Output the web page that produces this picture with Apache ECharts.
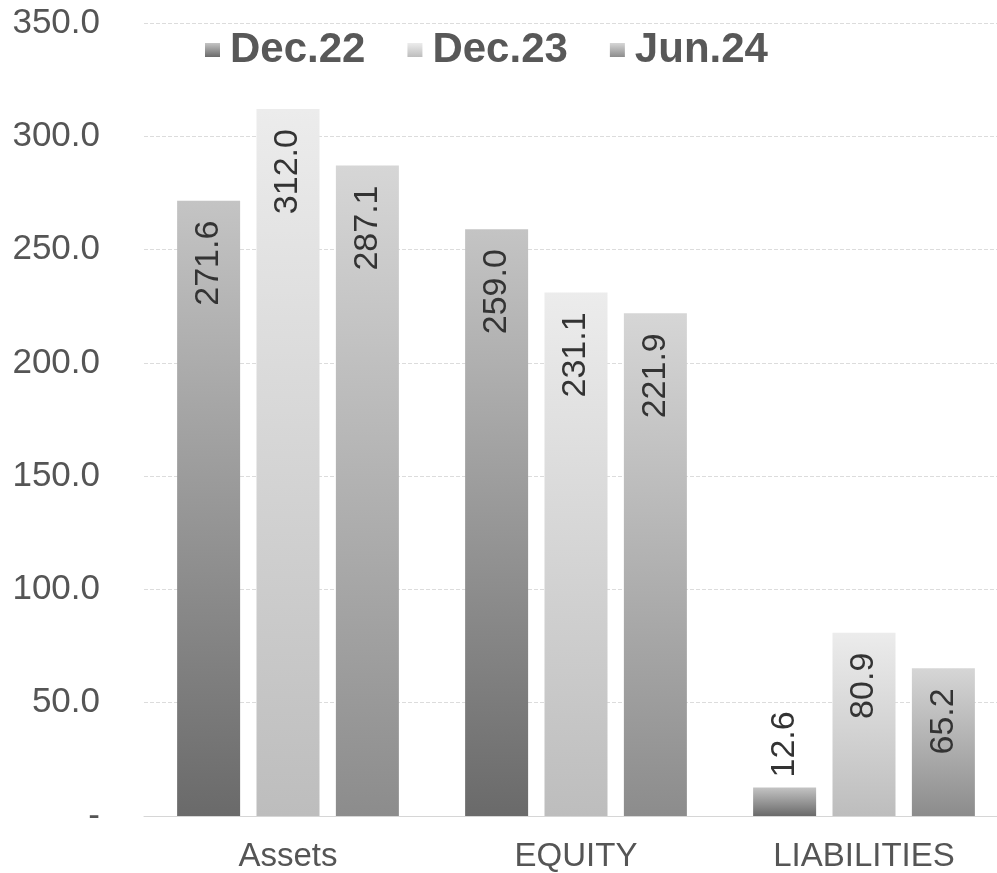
<!DOCTYPE html>
<html>
<head>
<meta charset="utf-8">
<script src="https://cdn.jsdelivr.net/npm/echarts@6/dist/echarts.min.js"></script>
<style>
  html, body { margin: 0; padding: 0; background: #fff; }
  #chart { width: 997px; height: 873px; }
</style>
</head>
<body>
<div id="chart"></div>
<script>
  // data
  var categories = ['Assets', 'EQUITY', 'LIABILITIES'];
  var seriesNames = ['Dec.22', 'Dec.23', 'Jun.24'];
  var dec22 = [271.6, 259.0, 12.6];
  var dec23 = [312.0, 231.1, 80.9];
  var jun24 = [287.1, 221.9, 65.2];

  var font = 'Liberation Sans, Arial, sans-serif';

  // grey shades, light at top, darker at the foot
  function grad(top, bottom) {
    return new echarts.graphic.LinearGradient(0, 0, 0, 1, [
      {offset: 0, color: top},
      {offset: 1, color: bottom}
    ]);
  }

  var fills = [
    grad('#c4c4c4', '#6a6a6a'),
    grad('#ececec', '#bdbdbd'),
    grad('#d6d6d6', '#8c8c8c')
  ];

  // small bars get their label above the bar
  function makeData(values) {
    return values.map(function (v) {
      if (v < 40) {
        return {
          value: v,
          label: {position: 'top', align: 'left', distance: 10}
        };
      }
      return v;
    });
  }

  var chart = echarts.init(document.getElementById('chart'));

  var option = {
    backgroundColor: '#ffffff',
    animation: false,
    legend: {
      top: 24,
      left: 200,
      itemWidth: 15,
      itemHeight: 14,
      itemGap: 42,
      icon: 'rect',
      textStyle: {fontFamily: font, fontSize: 42, fontWeight: 'bold', color: '#585858', padding: [0, 0, 0, 5]},
      data: seriesNames
    },
    grid: {
      left: 144,
      right: -11,
      top: 23,
      bottom: 57,
      containLabel: false,
      outerBoundsMode: 'none'
    },
    xAxis: {
      type: 'category',
      data: categories,
      axisTick: {show: false},
      axisLine: {lineStyle: {color: '#d6d6d6', width: 1}},
      axisLabel: {fontFamily: font, fontSize: 33, color: '#555', margin: 24}
    },
    yAxis: {
      type: 'value',
      min: 0,
      max: 350,
      interval: 50,
      axisLine: {show: false},
      axisTick: {show: false},
      splitLine: {lineStyle: {color: '#dcdcdc', type: 'dashed', width: 1}},
      axisLabel: {
        fontFamily: font,
        fontSize: 35,
        color: '#555',
        margin: 44,
        formatter: function (v) {
          return v === 0 ? '-' : v.toFixed(1);
        }
      }
    },
    series: [dec22, dec23, jun24].map(function (vals, i) {
      return {
        name: seriesNames[i],
        type: 'bar',
        barWidth: 63,
        barGap: '26%',
        data: makeData(vals),
        itemStyle: {color: fills[i]},
        label: {
          show: true,
          position: 'insideTop',
          rotate: 90,
          align: 'right',
          verticalAlign: 'middle',
          distance: 20,
          fontFamily: font,
          fontSize: 34,
          color: '#333',
          formatter: function (p) {
            return p.value.toFixed(1);
          }
        }
      };
    })
  };

  chart.setOption(option);
</script>
</body>
</html>
